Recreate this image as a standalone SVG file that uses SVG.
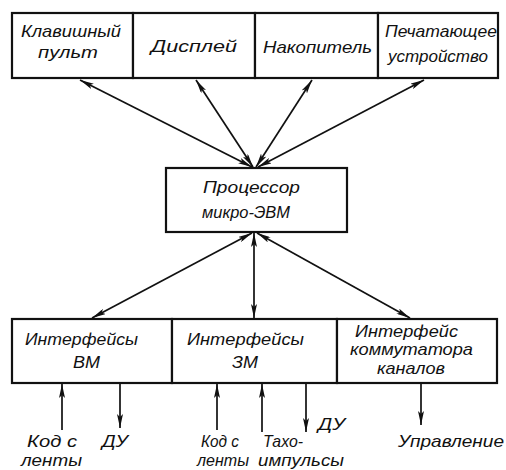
<svg xmlns="http://www.w3.org/2000/svg" width="506" height="470" viewBox="0 0 506 470">
<style>
.box{fill:#fff;stroke:#111;stroke-width:2.2}
.t{font-family:"Liberation Sans",sans-serif;font-style:italic;font-size:16.5px;fill:#111}
.ln{stroke:#111;stroke-width:1.7;fill:none}
</style>
<defs>
<marker id="ah" viewBox="0 0 14 6" refX="14" refY="3" markerWidth="14" markerHeight="6" markerUnits="userSpaceOnUse" orient="auto-start-reverse">
<path d="M0,0 L14,3 L0,6 L3,3 Z" fill="#111"/>
</marker>
</defs>
<rect width="506" height="470" fill="#fff"/>
<g id="top-row">
<g id="n-keyboard"><rect class="box" x="12" y="13" width="121" height="65"/>
<text class="t" x="21" y="37" textLength="100" lengthAdjust="spacingAndGlyphs">Клавишный</text>
<text class="t" x="38" y="58" textLength="60" lengthAdjust="spacingAndGlyphs">пульт</text></g>
<g id="n-display"><rect class="box" x="133" y="13" width="122" height="65"/>
<text class="t" x="151" y="52" textLength="86" lengthAdjust="spacingAndGlyphs">Дисплей</text></g>
<g id="n-storage"><rect class="box" x="255" y="13" width="123" height="65"/>
<text class="t" x="263" y="53" textLength="109" lengthAdjust="spacingAndGlyphs">Накопитель</text></g>
<g id="n-printer"><rect class="box" x="378" y="13" width="120" height="65"/>
<text class="t" x="385" y="37" textLength="112" lengthAdjust="spacingAndGlyphs">Печатающее</text>
<text class="t" x="388" y="62" textLength="100" lengthAdjust="spacingAndGlyphs">устройство</text></g>
</g>
<g id="n-cpu"><rect class="box" x="166" y="168" width="181" height="64"/>
<text class="t" x="203" y="193" textLength="97" lengthAdjust="spacingAndGlyphs">Процессор</text>
<text class="t" x="202" y="218" textLength="88" lengthAdjust="spacingAndGlyphs">микро-ЭВМ</text></g>
<g id="bottom-row">
<g id="n-ifvm"><rect class="box" x="12" y="319" width="160" height="64"/>
<text class="t" x="25" y="345" textLength="113" lengthAdjust="spacingAndGlyphs">Интерфейсы</text>
<text class="t" x="73" y="368" textLength="27" lengthAdjust="spacingAndGlyphs">ВМ</text></g>
<g id="n-ifzm"><rect class="box" x="172" y="319" width="165" height="64"/>
<text class="t" x="187" y="345" textLength="117" lengthAdjust="spacingAndGlyphs">Интерфейсы</text>
<text class="t" x="232" y="368" textLength="26" lengthAdjust="spacingAndGlyphs">ЗМ</text></g>
<g id="n-ifsw"><rect class="box" x="337" y="319" width="160" height="64"/>
<text class="t" x="355" y="337" textLength="103" lengthAdjust="spacingAndGlyphs">Интерфейс</text>
<text class="t" x="350" y="355" textLength="123" lengthAdjust="spacingAndGlyphs">коммутатора</text>
<text class="t" x="377" y="374" textLength="68" lengthAdjust="spacingAndGlyphs">каналов</text></g>
</g>
<g id="connectors">
<line class="ln" x1="80" y1="80" x2="252" y2="167" marker-start="url(#ah)" marker-end="url(#ah)"/>
<line class="ln" x1="196" y1="80" x2="253" y2="167" marker-start="url(#ah)" marker-end="url(#ah)"/>
<line class="ln" x1="312" y1="80" x2="256" y2="167" marker-start="url(#ah)" marker-end="url(#ah)"/>
<line class="ln" x1="424" y1="80" x2="258" y2="167" marker-start="url(#ah)" marker-end="url(#ah)"/>
<line class="ln" x1="252" y1="233" x2="92" y2="318" marker-start="url(#ah)" marker-end="url(#ah)"/>
<line class="ln" x1="254" y1="233" x2="254" y2="318" marker-start="url(#ah)" marker-end="url(#ah)"/>
<line class="ln" x1="257" y1="233" x2="410" y2="318" marker-start="url(#ah)" marker-end="url(#ah)"/>
<line class="ln" x1="62" y1="430" x2="62" y2="384" marker-end="url(#ah)"/>
<line class="ln" x1="120" y1="384" x2="120" y2="428" marker-end="url(#ah)"/>
<line class="ln" x1="217" y1="430" x2="217" y2="384" marker-end="url(#ah)"/>
<line class="ln" x1="262" y1="432" x2="262" y2="384" marker-end="url(#ah)"/>
<line class="ln" x1="306" y1="384" x2="306" y2="432" marker-end="url(#ah)"/>
<line class="ln" x1="421" y1="384" x2="421" y2="425" marker-end="url(#ah)"/>
</g>
<g id="labels">
<text class="t" x="27" y="447" textLength="50" lengthAdjust="spacingAndGlyphs">Код с</text>
<text class="t" x="21" y="466" textLength="61" lengthAdjust="spacingAndGlyphs">ленты</text>
<text class="t" x="102" y="447" textLength="26" lengthAdjust="spacingAndGlyphs">ДУ</text>
<text class="t" x="201" y="447" textLength="38" lengthAdjust="spacingAndGlyphs">Код с</text>
<text class="t" x="197" y="466" textLength="52" lengthAdjust="spacingAndGlyphs">ленты</text>
<text class="t" x="263" y="447" textLength="40" lengthAdjust="spacingAndGlyphs">Тахо-</text>
<text class="t" x="258" y="466" textLength="86" lengthAdjust="spacingAndGlyphs">импульсы</text>
<text class="t" x="318" y="430" textLength="27" lengthAdjust="spacingAndGlyphs">ДУ</text>
<text class="t" x="398" y="447" textLength="106" lengthAdjust="spacingAndGlyphs">Управление</text>
</g>
</svg>
